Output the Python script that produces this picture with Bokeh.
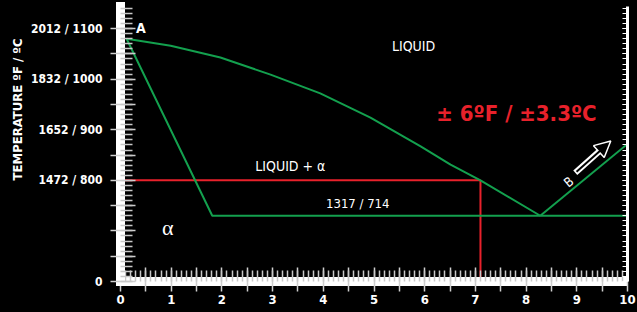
import numpy as np
from bokeh.plotting import figure
from bokeh.models import (FixedTicker, LinearAxis, Range1d, Label, Arrow, NormalHead,
                          CustomJSTickFormatter, Title)
from bokeh.embed import file_html
from bokeh.resources import INLINE

# ---- data (composition wt% vs temperature, axis scale in deg C) ----
liquidus_x = [0.12, 0.99, 1.97, 2.96, 3.94, 4.93, 5.92, 6.51, 7.10, 8.28]
liquidus_y = [1080, 1066, 1043, 1009, 972, 924, 867, 831, 800, 730]
solidus_x = [0.12, 1.81, 10.0]
solidus_y = [1080, 730, 730]
right_x = [8.28, 10.0]
right_y = [730, 872]
red_h_x = [0.0, 7.10]
red_h_y = [800, 800]
red_v_x = [7.10, 7.10]
red_v_y = [800, 600]

x_major = [i * 0.5 for i in range(21)]
x_minor = [round(i * 0.1, 1) for i in range(101)]
x_labels = {t: (str(int(t)) if t == int(t) else "") for t in x_major}

y_major = list(range(600, 1101, 50))
y_minor = list(range(600, 1141, 10))
y_label_vals = [600, 800, 900, 1000, 1100]
y_label_txt = ["0", "1472 / 800", "1652 / 900", "1832 / 1000", "2012 / 1100"]
y_labels = {t: "" for t in y_major}
y_labels.update(dict(zip(y_label_vals, y_label_txt)))
y_title = "TEMPERATURE ºF / ºC"

FONT = "DejaVu Sans Condensed"
GREEN = "#13a04e"
RED = "#e8212b"

p = figure(width=637, height=312, x_range=Range1d(0, 10), y_range=Range1d(600, 1143.8),
           output_backend="svg", toolbar_location=None,
           background_fill_color="black", border_fill_color="black",
           min_border_left=120, min_border_right=10, min_border_top=6, min_border_bottom=31)
p.outline_line_color = None
p.grid.visible = False

# x axis
xa = p.xaxis[0]
xa.ticker = FixedTicker(ticks=x_major, minor_ticks=x_minor)
xa.major_label_overrides = x_labels
xa.axis_line_color = "white"
xa.axis_line_width = 9
xa.major_tick_line_color = "#cfcfcf"
xa.major_tick_line_width = 1.5
xa.major_tick_in = 14
xa.major_tick_out = 10
xa.minor_tick_line_color = "#c8c8c8"
xa.minor_tick_line_width = 1.5
xa.minor_tick_in = 11
xa.minor_tick_out = 0
xa.major_label_text_color = "white"
xa.major_label_text_font = FONT
xa.major_label_text_font_style = "bold"
xa.major_label_text_font_size = "13px"
xa.major_label_standoff = 3

# y axis
ya = p.yaxis[0]
ya.ticker = FixedTicker(ticks=y_major, minor_ticks=y_minor)
ya.major_label_overrides = y_labels
ya.axis_line_color = "white"
ya.axis_line_width = 9
ya.axis_line_cap = "square"
ya.major_tick_line_color = "#cfcfcf"
ya.major_tick_line_width = 1.5
ya.major_tick_in = 15
ya.major_tick_out = 10
ya.minor_tick_line_color = "#c8c8c8"
ya.minor_tick_line_width = 1.5
ya.minor_tick_in = 12
ya.minor_tick_out = 0
ya.major_label_text_color = "white"
ya.major_label_text_font = FONT
ya.major_label_text_font_style = "bold"
ya.major_label_text_font_size = "12px"
ya.major_label_standoff = 8

# vertical title on the left, placed toward the top like the original
p.add_layout(Title(text=y_title, align="right", offset=32, text_color="white",
                   text_font=FONT, text_font_style="bold", text_font_size="13px",
                   standoff=6), "left")

# right thin axis
ra = LinearAxis(ticker=FixedTicker(ticks=y_major, minor_ticks=y_minor),
                formatter=CustomJSTickFormatter(code="return ''"))
ra.axis_line_color = "white"
ra.axis_line_width = 3
ra.major_tick_in = 5
ra.major_tick_out = 0
ra.minor_tick_in = 5
ra.minor_tick_out = 0
ra.major_tick_line_color = "white"
ra.minor_tick_line_color = "white"
ra.major_label_standoff = 0
p.add_layout(ra, "right")

# lines
p.line(red_h_x, red_h_y, line_color=RED, line_width=2)
p.line(red_v_x, red_v_y, line_color=RED, line_width=2)
p.line(liquidus_x, liquidus_y, line_color=GREEN, line_width=2)
p.line(solidus_x, solidus_y, line_color=GREEN, line_width=2)
p.line(right_x, right_y, line_color=GREEN, line_width=2)

# arrow
p.add_layout(Arrow(end=NormalHead(size=16, fill_color="black", line_color="white", line_width=1.5),
                   x_start=8.97, y_start=815, x_end=9.67, y_end=878,
                   line_color="white", line_width=6))
p.add_layout(Arrow(end=None, x_start=8.995, y_start=817, x_end=9.5, y_end=862,
                   line_color="black", line_width=2))

def lab(x, y, t, size, bold=False, color="white", font=FONT, angle=0):
    p.add_layout(Label(x=x, y=y, text=t, text_color=color, text_font=font,
                       text_font_size=size, text_font_style="bold" if bold else "normal",
                       text_align="center", text_baseline="middle", angle=angle))

lab(0.40, 1102, "A", "14px", bold=True)
lab(5.78, 1066, "LIQUID", "14px")
lab(3.35, 829, "LIQUID + α", "14px")
lab(4.68, 754, "1317 / 714", "13px")
lab(0.93, 706, "α", "22px", font="Liberation Serif")
lab(7.81, 932, "± 6ºF / ±3.3ºC", "22px", bold=True, color=RED)
lab(8.84, 797, "B", "13px", angle=0.69)

html = file_html(p, INLINE)
html = html.replace("</head>", "<style>html,body{background:#000;}</style></head>", 1)
open("out.html", "w").write(html)
